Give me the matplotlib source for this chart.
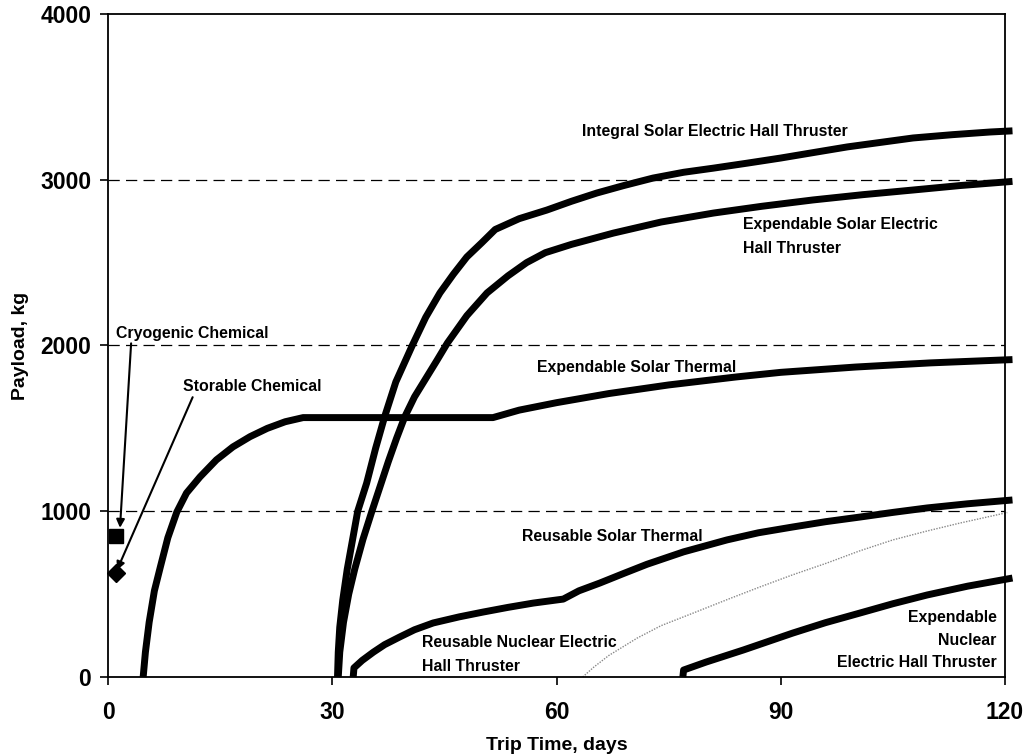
import numpy as np
import matplotlib
matplotlib.use("Agg")
import matplotlib.pyplot as plt

plt.rcParams['font.family'] = ['Liberation Sans', 'DejaVu Sans']
plt.rcParams['font.weight'] = 'bold'

# curve data (trip time in days, payload in kg)
int_sep_x = [30.7, 30.8, 31.0, 31.4, 32.0, 32.6, 33.4, 34.6, 35.8, 37.0, 38.5, 40.7, 42.5, 44.4, 46.2, 48.0, 50.0, 51.8,
             55.0, 58.7, 62.0, 65.4, 69.0, 72.9, 77.0, 81.0, 85.5, 90.0, 94.5, 98.9, 103.3, 107.7, 113.0, 118.0, 121.0]
int_sep_y = [0, 150, 300, 464, 650, 800, 1000, 1170, 1380, 1570, 1780, 2000, 2170, 2317, 2430, 2534, 2620, 2700,
             2765, 2817, 2870, 2920, 2965, 3010, 3045, 3070, 3100, 3131, 3165, 3198, 3225, 3252, 3272, 3288, 3295]

exp_sep_x = [30.8, 31.0, 31.5, 32.2, 33.0, 34.1, 35.3, 36.4, 37.5, 38.6, 39.7, 41.0, 42.5, 44.0, 45.4, 48.0, 50.7,
             53.5, 56.0, 58.5, 62.0, 67.6, 74.0, 81.0, 87.5, 94.3, 101.0, 107.7, 114.0, 121.0]
exp_sep_y = [0, 150, 330, 500, 650, 830, 1000, 1150, 1300, 1440, 1570, 1690, 1800, 1910, 2015, 2180, 2317,
             2420, 2500, 2560, 2610, 2678, 2745, 2799, 2840, 2878, 2910, 2938, 2965, 2990]

exp_st_x = [4.7, 5.0, 5.5, 6.2, 7.0, 8.0, 9.2, 10.5, 12.3, 14.5, 16.7, 19.0, 21.3, 23.7, 26.1, 51.5,
            55.0, 60.0, 67.0, 75.0, 84.0, 90.0, 100.0, 110.0, 121.0]
exp_st_y = [0, 150, 330, 520, 664, 840, 995, 1110, 1207, 1310, 1388, 1450, 1500, 1540, 1565, 1565,
            1610, 1655, 1710, 1762, 1810, 1838, 1870, 1895, 1915]

reu_st_x = [32.8, 32.9, 34.0, 35.5, 37.0, 39.0, 41.0, 43.5, 47.0, 50.2, 53.5, 56.9, 60.9, 63.0, 65.8, 69.0, 72.1,
            77.0, 82.8, 87.0, 91.6, 96.0, 100.6, 105.0, 109.6, 115.0, 121.0]
reu_st_y = [0, 55, 100, 150, 195, 241, 285, 326, 363, 392, 420, 446, 470, 520, 567, 625, 680,
            755, 827, 870, 905, 937, 965, 993, 1020, 1045, 1068]

exp_neht_x = [76.9, 77.0, 80.0, 85.0, 91.6, 96.0, 100.6, 105.0, 109.6, 115.0, 121.0]
exp_neht_y = [0, 42, 90, 163, 265, 328, 386, 442, 495, 548, 597]

reu_neht_x = [63.5, 65.0, 67.0, 70.8, 74.0, 78.3, 83.0, 87.2, 91.5, 96.2, 100.5, 105.0, 109.5, 114.0, 120.3]
reu_neht_y = [0, 60, 130, 235, 310, 386, 470, 543, 615, 688, 760, 827, 880, 929, 992]

cryo_x, cryo_y = 1.0, 850
stor_x, stor_y = 1.0, 630

xticks = [0, 30, 60, 90, 120]
yticks = [0, 1000, 2000, 3000, 4000]

fig = plt.figure(figsize=(10.25, 7.56), dpi=100)
ax = fig.add_axes([0.1054, 0.1045, 0.8751, 0.877])

for y in [1000, 2000, 3000]:
    ax.axhline(y, color='black', lw=0.9, dashes=(9, 5), zorder=1)

for xs, ys in [(int_sep_x, int_sep_y), (exp_sep_x, exp_sep_y), (exp_st_x, exp_st_y),
               (reu_st_x, reu_st_y), (exp_neht_x, exp_neht_y)]:
    ax.plot(xs, ys, color='black', lw=5, solid_capstyle='butt', solid_joinstyle='round',
            clip_on=False, zorder=3)

ax.plot(reu_neht_x, reu_neht_y, color='#888888', lw=1.0, ls=(0, (1, 1)), clip_on=False, zorder=2)

ax.plot(cryo_x, cryo_y, marker='s', ms=10.5, color='black', clip_on=False, zorder=4)
ax.plot(stor_x, stor_y, marker='D', ms=9, color='black', clip_on=False, zorder=4)

# labels
fs = 11.4
ax.text(63.4, 3290, 'Integral Solar Electric Hall Thruster', fontsize=fs, va='center', ha='left')
ax.text(85.0, 2655, 'Expendable Solar Electric\nHall Thruster', fontsize=fs, va='center', ha='left', linespacing=1.75)
ax.text(57.4, 1870, 'Expendable Solar Thermal', fontsize=fs, va='center', ha='left')
ax.text(55.4, 845, 'Reusable Solar Thermal', fontsize=fs, va='center', ha='left')
ax.text(42.0, 133, 'Reusable Nuclear Electric\nHall Thruster', fontsize=fs, va='center', ha='left', linespacing=1.75)
ax.text(118.9, 223, 'Expendable\nNuclear\nElectric Hall Thruster', fontsize=fs, va='center', ha='right',
        multialignment='right', linespacing=1.65)

ax.annotate('Cryogenic Chemical', xy=(1.6, 900), xytext=(1.07, 2075), fontsize=fs, va='center', ha='left',
            arrowprops=dict(arrowstyle='-|>', color='black', lw=1.5, mutation_scale=12,
                            shrinkA=0, shrinkB=0, relpos=(0.1, 0)), zorder=5)
ax.annotate('Storable Chemical', xy=(1.2, 645), xytext=(10.0, 1750), fontsize=fs, va='center', ha='left',
            arrowprops=dict(arrowstyle='-|>', color='black', lw=1.5, mutation_scale=12,
                            shrinkA=0, shrinkB=0, relpos=(0.08, 0)), zorder=5)

ax.set_xlim(0, 120)
ax.set_ylim(0, 4000)
ax.set_xticks(xticks)
ax.set_yticks(yticks)
ax.tick_params(axis='both', direction='out', length=6, width=1.2, labelsize=16.5)
ax.tick_params(axis='x', pad=11)
ax.tick_params(axis='y', pad=6)
for lab in ax.get_xticklabels() + ax.get_yticklabels():
    lab.set_fontweight('bold')
for sp in ax.spines.values():
    sp.set_linewidth(1.3)

ax.set_xlabel('Trip Time, days', fontsize=14, fontweight='bold', labelpad=10)
ax.set_ylabel('Payload, kg', fontsize=14, fontweight='bold', labelpad=8)

fig.savefig('out.png', dpi=100)
